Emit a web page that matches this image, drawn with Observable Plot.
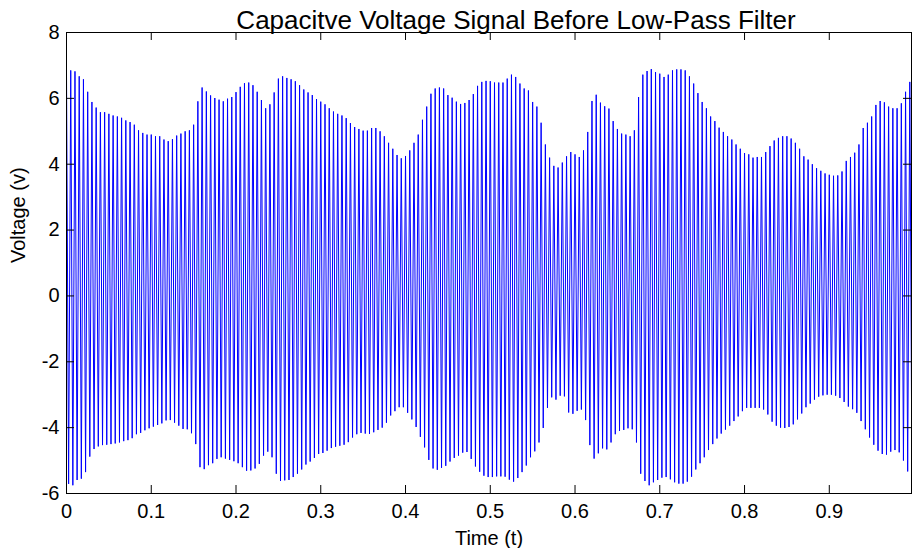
<!DOCTYPE html>
<html><head><meta charset="utf-8">
<script src="https://cdn.jsdelivr.net/npm/d3@7"></script>
<script src="https://cdn.jsdelivr.net/npm/@observablehq/plot@0.6"></script>
<style>body{margin:0;background:#fff;}</style>
</head><body><div id="chart"></div>
<script>
const title = "Capacitve Voltage Signal Before Low-Pass Filter";
const xLabel = "Time (t)";
const yLabel = "Voltage (v)";
const period = 0.005; // sampling of the oscillation (s)

// peak value of each oscillation (V), one per cycle, starting at t = 0
const upperPeaks = [
  6.85,6.85,6.82,6.67,6.58,6.2,5.89,5.72,5.58,5.58,
  5.53,5.48,5.45,5.41,5.33,5.28,5.2,5.03,4.95,4.9,
  4.9,4.85,4.85,4.75,4.7,4.76,4.87,4.93,5.0,5.03,
  5.2,5.91,6.33,6.21,6.09,6.01,5.96,5.91,5.99,6.04,
  6.19,6.35,6.46,6.48,6.4,6.2,5.95,5.7,5.82,6.18,
  6.6,6.67,6.62,6.58,6.52,6.4,6.27,6.18,6.1,5.98,
  5.9,5.82,5.7,5.6,5.53,5.48,5.4,5.25,5.13,5.07,
  5.02,5.02,5.1,5.1,5.0,4.85,4.65,4.47,4.28,4.18,
  4.25,4.42,4.65,4.9,5.35,5.75,6.14,6.3,6.33,6.3,
  6.1,6.02,5.9,5.83,5.86,5.95,6.13,6.38,6.5,6.53,
  6.52,6.48,6.48,6.48,6.6,6.72,6.65,6.45,6.3,6.24,
  5.89,5.75,5.26,4.6,4.2,3.95,3.9,4.05,4.24,4.37,
  4.3,4.22,4.42,4.98,5.92,6.11,5.87,5.76,5.69,5.31,
  5.07,4.93,4.9,4.85,5.03,6.04,6.72,6.83,6.89,6.8,
  6.75,6.65,6.72,6.85,6.88,6.88,6.85,6.67,6.45,6.16,
  5.89,5.7,5.45,5.31,5.11,4.98,4.85,4.75,4.6,4.47,
  4.34,4.3,4.2,4.22,4.22,4.37,4.55,4.72,4.8,4.85,
  4.85,4.78,4.65,4.47,4.24,4.14,4.0,3.88,3.8,3.72,
  3.68,3.65,3.66,3.78,4.1,4.22,4.35,4.6,5.1,5.26,
  5.45,5.8,5.92,5.88,5.75,5.7,5.7,5.85,6.2,6.5
];

// trough value of each oscillation (V), half a period after each peak
const lowerTroughs = [
  -5.71,-5.75,-5.59,-5.55,-5.35,-4.88,-4.65,-4.57,-4.53,-4.52,
  -4.5,-4.48,-4.45,-4.41,-4.38,-4.32,-4.2,-4.16,-4.08,-4.02,
  -3.97,-3.92,-3.87,-3.78,-3.77,-3.85,-3.94,-4.04,-4.05,-4.17,
  -4.5,-5.2,-5.26,-5.14,-5.08,-4.95,-4.9,-4.94,-4.98,-5.02,
  -5.08,-5.2,-5.31,-5.3,-5.24,-5.1,-4.85,-4.73,-4.9,-5.4,
  -5.62,-5.6,-5.59,-5.5,-5.4,-5.27,-5.12,-5.03,-4.92,-4.8,
  -4.77,-4.7,-4.62,-4.58,-4.55,-4.52,-4.44,-4.3,-4.2,-4.16,
  -4.18,-4.19,-4.14,-4.07,-4.0,-3.85,-3.63,-3.5,-3.38,-3.38,
  -3.55,-3.75,-3.98,-4.28,-4.6,-4.98,-5.24,-5.28,-5.22,-5.16,
  -5.03,-4.92,-4.85,-4.76,-4.74,-4.95,-5.18,-5.34,-5.46,-5.5,
  -5.5,-5.48,-5.48,-5.49,-5.58,-5.64,-5.53,-5.35,-5.15,-4.9,
  -4.72,-4.45,-4.01,-3.4,-3.08,-3.15,-3.03,-3.05,-3.54,-3.58,
  -3.49,-3.45,-3.77,-4.53,-4.94,-4.78,-4.63,-4.66,-4.45,-4.2,
  -4.1,-4.07,-4.02,-4.05,-4.45,-5.4,-5.62,-5.75,-5.66,-5.59,
  -5.52,-5.5,-5.57,-5.66,-5.7,-5.7,-5.64,-5.49,-5.27,-5.08,
  -4.9,-4.68,-4.5,-4.33,-4.18,-4.06,-3.94,-3.8,-3.66,-3.5,
  -3.4,-3.4,-3.4,-3.4,-3.45,-3.6,-3.82,-3.94,-4.0,-4.01,
  -3.98,-3.9,-3.75,-3.57,-3.38,-3.27,-3.15,-3.06,-3.02,-3.0,
  -3.0,-3.03,-3.1,-3.22,-3.36,-3.44,-3.55,-3.8,-4.05,-4.3,
  -4.52,-4.7,-4.8,-4.82,-4.73,-4.68,-4.75,-5.0,-5.33,-5.55
];

const xTicks = [0, 0.1, 0.2, 0.3, 0.4, 0.5, 0.6, 0.7, 0.8, 0.9];
const yTicks = [-6, -4, -2, 0, 2, 4, 6, 8];

const signal = [];
upperPeaks.forEach((v, k) => {
  signal.push({t: k * period, v});
  if (k < lowerTroughs.length) signal.push({t: k * period + period / 2, v: lowerTroughs[k]});
});

const W = 912, H = 548, mL = 66, mR = 1, mT = 32, mB = 55;
const pw = W - mL - mR, ph = H - mT - mB, tk = 8;

const chart = Plot.plot({
  width: W, height: H,
  marginLeft: mL, marginRight: mR, marginTop: mT, marginBottom: mB,
  style: {fontFamily: "'Liberation Sans', Arial, sans-serif", fontSize: "20px", background: "#fff", color: "#000", overflow: "visible"},
  x: {domain: [0, 0.997]},
  y: {domain: [-6, 8]},
  marks: [
    Plot.line(signal, {x: "t", y: "v", stroke: "#0000ff", strokeWidth: 1}),
    Plot.frame({stroke: "#000"}),
    Plot.tickX(xTicks, {x: d => d, insetTop: ph - tk, stroke: "#000"}),
    Plot.tickX(xTicks, {x: d => d, insetBottom: ph - tk, stroke: "#000"}),
    Plot.tickY(yTicks, {y: d => d, insetRight: pw - tk, stroke: "#000"}),
    Plot.tickY(yTicks, {y: d => d, insetLeft: pw - tk, stroke: "#000"}),
    Plot.axisX(xTicks, {tickSize: 0, tickPadding: 10, tickFormat: d => String(d), fontSize: 20, label: null}),
    Plot.axisY(yTicks, {tickSize: 0, tickPadding: 7, tickFormat: d => String(d), fontSize: 20, label: null}),
    Plot.text([xLabel], {frameAnchor: "bottom", lineAnchor: "middle", dy: 45, fontSize: 20, text: d => d}),
    Plot.text([yLabel], {frameAnchor: "left", lineAnchor: "middle", dx: -48, rotate: -90, fontSize: 20, text: d => d}),
    Plot.text([title], {frameAnchor: "top", lineAnchor: "middle", dx: 27, dy: -12, fontSize: 26, text: d => d})
  ]
});
document.getElementById("chart").appendChild(chart);
</script>
</body></html>
